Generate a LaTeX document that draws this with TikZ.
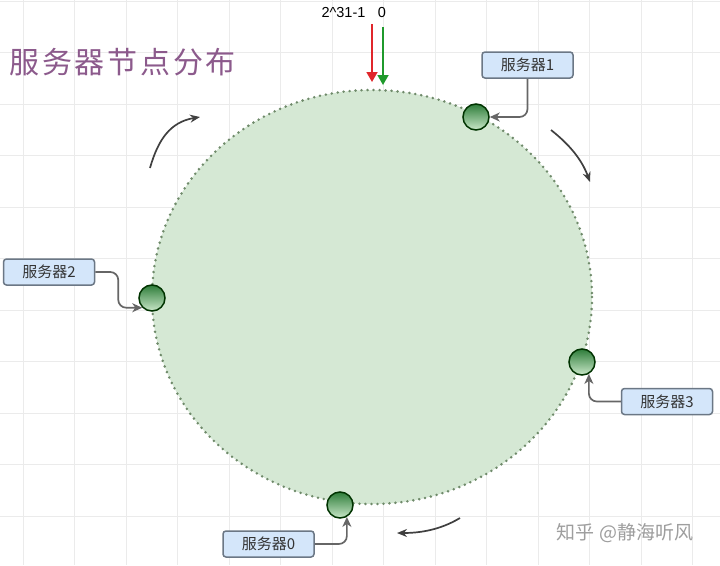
\documentclass[tikz,border=0pt]{standalone}
\usepackage{fontspec}
\setmainfont{Liberation Sans}
\newfontfamily\cjk{Noto Sans CJK SC}
\newfontfamily\titlefont[LetterSpace=9]{Noto Sans CJK SC}
\usetikzlibrary{arrows.meta}
\definecolor{gridgray}{HTML}{EBEBEB}
\definecolor{ringfill}{HTML}{D5E8D4}
\definecolor{ringdot}{HTML}{6F8A6A}
\definecolor{dotdark}{HTML}{2E7D3A}
\definecolor{dotlight}{HTML}{C9E7C8}
\definecolor{boxfill}{HTML}{D4E6FA}
\definecolor{boxline}{HTML}{6B7785}
\definecolor{titlepurple}{HTML}{8C5A8C}
\definecolor{redarrow}{HTML}{E0262B}
\definecolor{greenarrow}{HTML}{1F9A2C}
\begin{document}
\begin{tikzpicture}[x=1pt, y=-1pt,
    dot/.style={circle, draw=black!80!green, line width=1.5pt, minimum size=26pt,
        inner sep=0pt, top color=dotdark, bottom color=dotlight},
    srvbox/.style={draw=boxline, fill=boxfill, rounded corners=3pt, line width=1.5pt,
        minimum width=91pt, minimum height=26pt, inner sep=0pt,
        font=\cjk\fontsize{15}{15}\selectfont, text=black!80},
    link/.style={draw=black!60, line width=1.7pt, rounded corners=8pt,
        -{Stealth[length=10pt,width=9pt,inset=3pt]}},
    turn/.style={draw=black!75, line width=1.7pt, -{Stealth[length=10pt,width=8pt]}}]
    \useasboundingbox[fill=white] (0,0) rectangle (720,565);

    % background grid
    \foreach \i in {0,...,13}
        \draw[gridgray, line width=1pt] (23+51.5*\i,0) -- (23+51.5*\i,565);
    \foreach \j in {0,...,10}
        \draw[gridgray, line width=1pt] (0,1+51.5*\j) -- (720,1+51.5*\j);

    % hash ring
    \draw[fill=ringfill, draw=ringdot, line width=2.8pt, line cap=round,
        dash pattern=on 0pt off 6pt] (372,297) ellipse [x radius=220, y radius=207];

    \node[anchor=west, text=titlepurple, font=\titlefont\fontsize{30}{30}\selectfont] (title) at (6,62) {服务器节点分布};

    \node[font=\fontsize{14.5}{14.5}\selectfont] (top) at (343.5,13) {2\textasciicircum 31-1};
    \node[font=\fontsize{14.5}{14.5}\selectfont] (zero) at (382,13) {0};
    \draw[redarrow, line width=1.8pt, -{Triangle[length=10pt,width=11pt]}] (372,24) -- (372,82);
    \draw[greenarrow, line width=1.8pt, -{Triangle[length=10pt,width=11pt]}] (383,27) -- (383,85);

    % servers on the ring
    \node[dot] (s1) at (476,117) {};
    \node[dot] (s2) at (152,298) {};
    \node[dot] (s3) at (582,362) {};
    \node[dot] (s0) at (340,505) {};

    \node[srvbox] (b1) at (527.5,65) {服务器1};
    \node[srvbox] (b2) at (49,272) {服务器2};
    \node[srvbox] (b3) at (667,401.5) {服务器3};
    \node[srvbox] (b0) at (268.5,544) {服务器0};

    \draw[link] (b1.south) |- (s1.east);
    \draw[link] (b2.east) -- ++(23,0) |- (s2.south west);
    \draw[link] (b3.west) -| (s3.-60);
    \draw[link] (b0.east) -| (s0.-60);

    % direction of travel
    \draw[turn] (150,168) .. controls (158,140) and (170,122) .. (200,117);
    \draw[turn] (551,130) .. controls (570,145) and (582,160) .. (590,182);
    \draw[turn] (460,518) .. controls (440,530) and (420,533) .. (397,533);

    \node[text=black!38, font=\cjk\fontsize{19}{19}\selectfont] (mark) at (625,533) {知乎 @静海听风};
\end{tikzpicture}
\end{document}
